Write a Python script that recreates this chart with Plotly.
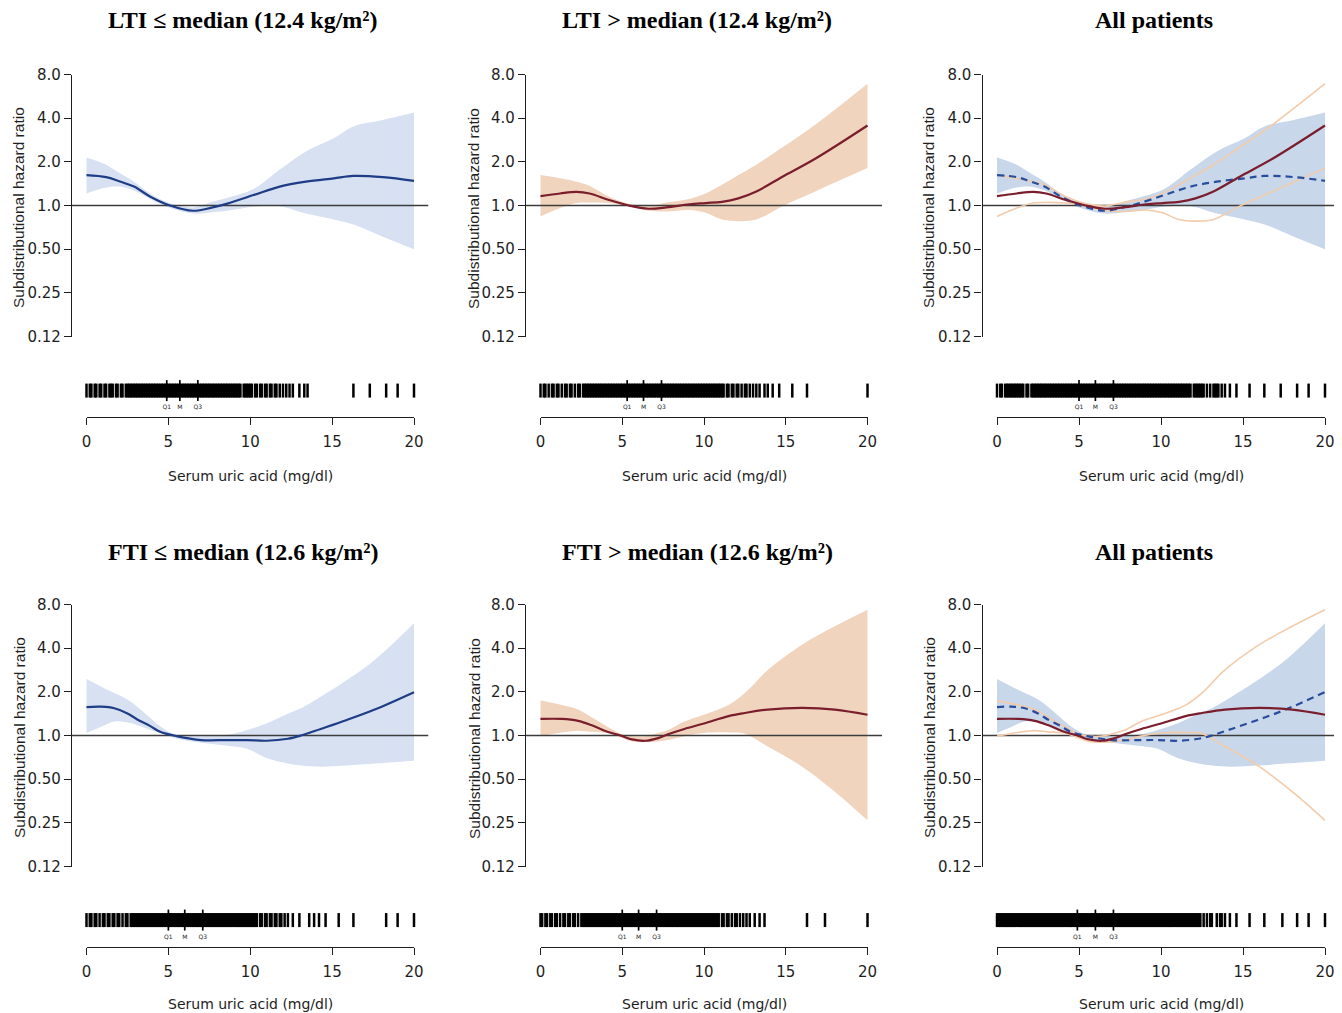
import math
import plotly.graph_objects as go

# ---------------- data ----------------
# LTI <= median (12.4 kg/m2)
lti_low_x = [0, 1.2, 2.0, 2.9, 3.9, 5.1, 6.5, 7.7, 8.6, 10.2, 11.8, 13.4, 15.1, 16.3, 18.1, 20]
lti_low_hr = [1.62, 1.57, 1.47, 1.35, 1.15, 1.0, 0.92, 0.97, 1.03, 1.18, 1.35, 1.46, 1.54, 1.60, 1.57, 1.48]
lti_low_hi = [2.14, 1.91, 1.68, 1.46, 1.21, 1.035, 0.97, 1.06, 1.13, 1.30, 1.77, 2.36, 2.91, 3.51, 3.89, 4.38]
lti_low_lo = [1.21, 1.33, 1.35, 1.27, 1.11, 0.96, 0.88, 0.90, 0.92, 0.98, 0.99, 0.88, 0.80, 0.74, 0.61, 0.50]

# LTI > median (12.4 kg/m2)
lti_high_x = [0, 1.2, 2.2, 3.0, 4.2, 5.4, 6.6, 7.7, 9.1, 10.1, 11.1, 12.1, 13.2, 14.8, 16.8, 20]
lti_high_hr = [1.16, 1.21, 1.24, 1.21, 1.09, 1.0, 0.95, 0.97, 1.02, 1.04, 1.06, 1.12, 1.25, 1.58, 2.10, 3.56]
lti_high_hi = [1.62, 1.54, 1.46, 1.37, 1.15, 1.03, 0.99, 1.05, 1.11, 1.21, 1.39, 1.62, 1.91, 2.52, 3.61, 6.92]
lti_high_lo = [0.84, 0.96, 1.04, 1.05, 1.04, 0.99, 0.92, 0.91, 0.93, 0.89, 0.80, 0.78, 0.80, 0.99, 1.25, 1.81]

# FTI <= median (12.6 kg/m2)
fti_low_x = [0, 0.9, 1.7, 2.5, 3.1, 3.9, 4.5, 5.5, 7.0, 8.6, 9.8, 11.0, 12.3, 13.1, 14.3, 15.9, 17.6, 20]
fti_low_hr = [1.57, 1.58, 1.54, 1.42, 1.29, 1.16, 1.06, 0.99, 0.93, 0.93, 0.93, 0.92, 0.95, 1.0, 1.11, 1.28, 1.51, 1.99]
fti_low_hi = [2.45, 2.17, 1.96, 1.77, 1.58, 1.32, 1.16, 1.01, 0.99, 1.01, 1.09, 1.21, 1.41, 1.54, 1.85, 2.41, 3.32, 5.94]
fti_low_lo = [1.04, 1.15, 1.25, 1.23, 1.18, 1.09, 1.04, 0.95, 0.89, 0.85, 0.81, 0.70, 0.64, 0.62, 0.61, 0.62, 0.64, 0.67]

# FTI > median (12.6 kg/m2)
fti_high_x = [0, 1.3, 2.3, 3.1, 4.1, 4.9, 5.6, 6.4, 7.2, 7.8, 8.8, 10.0, 11.5, 12.5, 13.9, 16.0, 18.0, 20]
fti_high_hr = [1.30, 1.30, 1.26, 1.18, 1.06, 1.0, 0.94, 0.92, 0.96, 1.02, 1.11, 1.21, 1.36, 1.43, 1.51, 1.55, 1.51, 1.39]
fti_high_hi = [1.74, 1.62, 1.51, 1.34, 1.15, 1.03, 0.99, 0.99, 1.04, 1.09, 1.25, 1.39, 1.62, 1.96, 2.83, 4.23, 5.66, 7.36]
fti_high_lo = [0.99, 1.05, 1.08, 1.06, 1.04, 0.97, 0.91, 0.90, 0.91, 0.93, 0.99, 1.04, 1.05, 1.03, 0.84, 0.61, 0.41, 0.26]

# observed serum uric acid values (rug); values 2.8-9.4 occur in every subgroup
uric_core = [2.8, 2.9, 3.0, 3.1, 3.2, 3.3, 3.4, 3.5, 3.6, 3.7, 3.8, 3.9, 4.0, 4.1, 4.2, 4.3,
             4.4, 4.5, 4.6, 4.7, 4.8, 4.9, 5.0, 5.1, 5.2, 5.3, 5.4, 5.5, 5.6, 5.7, 5.8, 5.9,
             6.0, 6.1, 6.2, 6.3, 6.4, 6.5, 6.6, 6.7, 6.8, 6.9, 7.0, 7.1, 7.2, 7.3, 7.4, 7.5,
             7.6, 7.7, 7.8, 7.9, 8.0, 8.1, 8.2, 8.3, 8.4, 8.5, 8.6, 8.7, 8.8, 8.9, 9.0, 9.1,
             9.2, 9.3, 9.4]
rug_lti_low = uric_core + [0.0, 0.2, 0.3, 0.5, 0.6, 0.8, 0.9, 1.1, 1.2, 1.4, 1.5, 1.6, 1.8, 1.9,
                           2.1, 2.2, 2.4, 2.5, 2.6, 2.7, 9.6, 9.7, 9.8, 9.9, 10.0, 10.1,
                           10.3, 10.4, 10.6, 10.7, 10.9, 11.0, 11.2, 11.3, 11.5, 11.6, 11.8,
                           12.0, 12.2, 12.4, 12.6, 13.0, 13.3, 13.5, 16.3, 17.3, 18.3, 19.0, 20.0]
rug_lti_high = uric_core + [0.0, 0.2, 0.3, 0.5, 0.7, 0.8, 1.0, 1.1, 1.3, 1.5, 1.6, 1.8, 1.9,
                            2.1, 2.3, 2.4, 2.6, 2.7, 9.5, 9.6, 9.7, 9.8, 9.9, 10.0, 10.1, 10.2,
                            10.3, 10.4, 10.5, 10.6, 10.7, 10.8, 10.9, 11.0, 11.1, 11.2, 11.4,
                            11.5, 11.7, 11.8, 12.0, 12.1, 12.3, 12.5, 12.6, 12.8, 13.0, 13.2,
                            13.4, 13.7, 13.9, 14.2, 14.6, 15.4, 16.3, 20.0]
rug_fti_low = uric_core + [0.0, 0.2, 0.3, 0.5, 0.6, 0.8, 1.0, 1.1, 1.3, 1.4, 1.6, 1.7, 1.9, 2.0,
                           2.2, 2.4, 2.5, 2.7, 9.5, 9.6, 9.7, 9.8, 9.9, 10.0, 10.1, 10.2, 10.3,
                           10.4, 10.6, 10.7, 10.9, 11.0, 11.2, 11.3, 11.5, 11.6, 11.8, 11.9,
                           12.1, 12.3, 12.6, 13.0, 13.6, 13.9, 14.2, 14.6, 15.4, 16.3, 18.3,
                           19.0, 20.0]
rug_fti_high = uric_core + [0.0, 0.1, 0.3, 0.4, 0.6, 0.7, 0.9, 1.0, 1.2, 1.4, 1.5, 1.7, 1.8,
                            2.0, 2.1, 2.3, 2.5, 2.6, 2.7, 9.5, 9.6, 9.7, 9.8, 9.9, 10.0, 10.1,
                            10.2, 10.3, 10.4, 10.5, 10.6, 10.7, 10.8, 10.9, 11.1, 11.2, 11.4,
                            11.5, 11.7, 11.9, 12.0, 12.2, 12.4, 12.6, 12.8, 13.1, 13.4, 13.7,
                            16.3, 17.4, 20.0]
rug_all_lti = sorted(set(rug_lti_low) | set(rug_lti_high))
rug_all_fti = sorted(set(rug_fti_low) | set(rug_fti_high))

q_labels = ["Q1", "M", "Q3"]
q_lti_low = [4.9, 5.7, 6.8]
q_lti_high = [5.3, 6.3, 7.4]
q_all_lti = [5.0, 6.0, 7.1]
q_fti_low = [5.0, 6.0, 7.1]
q_fti_high = [5.0, 6.0, 7.1]
q_all_fti = [4.9, 6.0, 7.1]

y_tickvals = [0.125, 0.25, 0.5, 1, 2, 4, 8]
y_ticktext = ["0.12", "0.25", "0.50", "1.0", "2.0", "4.0", "8.0"]
x_tickvals = [0, 5, 10, 15, 20]

titles = ["LTI ≤ median (12.4 kg/m²)", "LTI > median (12.4 kg/m²)", "All patients",
          "FTI ≤ median (12.6 kg/m²)", "FTI > median (12.6 kg/m²)", "All patients"]
y_title = "Subdistributional hazard ratio"
x_title = "Serum uric acid (mg/dl)"

# ---------------- styling / layout geometry ----------------
W, H = 1342, 1013
OFF = 8            # page body margin of the written html
FW, FH = W - OFF, H - OFF
BLUE = "#1f3c86"
BLUE_DASH = "#2a4c9c"
BLUE_BAND = "#d7e1f2"
BLUE_BAND_ALL = "#c9d7ea"
RED = "#7a1d2d"
TAN_BAND = "#f0d4bd"
TAN_LINE = "#f2cbab"
REF = "#3c3c3c"
AX = "#1e1e1e"
SANS = "DejaVu Sans"

col_x0 = [86.5, 540.5, 997.0]
col_x20 = [414.0, 867.5, 1325.0]
col_ytitle = [19.0, 474.0, 929.0]
col_title = [243.0, 697.0, 1154.0]
row_top = [74.5, 604.5]
row_bot = [336.5, 866.5]
row_axis = [417.3, 946.8]
row_rugtop = [378.0, 907.5]
row_title = [20.0, 552.0]
row_xtitle = [476.0, 1004.0]
PAD = 14.5
RUG_Y = 0.68


def fx(p):
    return (p - OFF) / FW


def fy(p):
    return 1 - (p - OFF) / FH


def ax(kind, k):
    return kind if k == 1 else f"{kind}{k}"


def lk(kind, k):
    return f"{kind}axis" if k == 1 else f"{kind}axis{k}"


fig = go.Figure()
layout_axes = {}
annotations = []


def add(tr, k):
    tr.update(xaxis=ax("x", k), yaxis=ax("y", k), showlegend=False, hoverinfo="skip")
    fig.add_trace(tr)


lti_low = dict(x=lti_low_x, hr=lti_low_hr, lo=lti_low_lo, hi=lti_low_hi)
lti_high = dict(x=lti_high_x, hr=lti_high_hr, lo=lti_high_lo, hi=lti_high_hi)
fti_low = dict(x=fti_low_x, hr=fti_low_hr, lo=fti_low_lo, hi=fti_low_hi)
fti_high = dict(x=fti_high_x, hr=fti_high_hr, lo=fti_high_lo, hi=fti_high_hi)

panels = [
    dict(r=0, c=0, mode="single", g=lti_low, band=BLUE_BAND, line=BLUE, rug=rug_lti_low, q=q_lti_low),
    dict(r=0, c=1, mode="single", g=lti_high, band=TAN_BAND, line=RED, rug=rug_lti_high, q=q_lti_high),
    dict(r=0, c=2, mode="all", g=lti_low, g2=lti_high, rug=rug_all_lti, q=q_all_lti),
    dict(r=1, c=0, mode="single", g=fti_low, band=BLUE_BAND, line=BLUE, rug=rug_fti_low, q=q_fti_low),
    dict(r=1, c=1, mode="single", g=fti_high, band=TAN_BAND, line=RED, rug=rug_fti_high, q=q_fti_high),
    dict(r=1, c=2, mode="all", g=fti_low, g2=fti_high, rug=rug_all_fti, q=q_all_fti),
]


def band(k, g, color):
    add(go.Scatter(x=g["x"], y=g["lo"], mode="lines",
                   line=dict(width=0, shape="spline", smoothing=1)), k)
    add(go.Scatter(x=g["x"], y=g["hi"], mode="lines", fill="tonexty", fillcolor=color,
                   line=dict(width=0, shape="spline", smoothing=1)), k)


for p, P in enumerate(panels):
    r, c = P["r"], P["c"]
    km, kr = 2 * p + 1, 2 * p + 2
    x0, x20 = col_x0[c], col_x20[c]
    ppu = (x20 - x0) / 20.0
    xr = [-PAD / ppu, 20 + PAD / ppu]

    layout_axes[lk("x", km)] = dict(domain=[fx(x0 - PAD), fx(x20 + PAD)], range=xr,
                                   visible=False, anchor=ax("y", km), automargin=False)
    layout_axes[lk("y", km)] = dict(
        domain=[fy(row_bot[r]), fy(row_top[r])], type="log", automargin=False,
        range=[math.log10(0.125), math.log10(8)], anchor=ax("x", km),
        showline=True, linecolor=AX, linewidth=1.3, ticks="outside", ticklen=7,
        tickwidth=1.3, tickcolor=AX, tickvals=y_tickvals, ticktext=y_ticktext,
        showgrid=False, zeroline=False, tickfont=dict(family=SANS, size=15, color=AX))
    layout_axes[lk("x", kr)] = dict(
        domain=[fx(x0), fx(x20)], range=[0, 20], anchor=ax("y", kr), automargin=False,
        showline=True, linecolor=AX, linewidth=1.3, ticks="outside", ticklen=7,
        tickwidth=1.3, tickcolor=AX, tickvals=x_tickvals, showgrid=False, zeroline=False,
        ticklabelstandoff=4, tickfont=dict(family=SANS, size=15, color=AX))
    layout_axes[lk("y", kr)] = dict(domain=[fy(row_axis[r]), fy(row_rugtop[r])], range=[0, 1],
                                   visible=False, anchor=ax("x", kr), automargin=False)

    g = P["g"]
    if P["mode"] == "single":
        band(km, g, P["band"])
        add(go.Scatter(x=xr, y=[1, 1], mode="lines", line=dict(color=REF, width=1.5)), km)
        add(go.Scatter(x=g["x"], y=g["hr"], mode="lines",
                       line=dict(color=P["line"], width=2.2, shape="spline", smoothing=1)), km)
    else:
        g2 = P["g2"]
        band(km, g, BLUE_BAND_ALL)
        add(go.Scatter(x=xr, y=[1, 1], mode="lines", line=dict(color=REF, width=1.5)), km)
        for key in ("lo", "hi"):
            add(go.Scatter(x=g2["x"], y=g2[key], mode="lines",
                           line=dict(color=TAN_LINE, width=1.6, shape="spline", smoothing=1)), km)
        add(go.Scatter(x=g["x"], y=g["hr"], mode="lines",
                       line=dict(color=BLUE_DASH, width=2.2, dash="7px,5px",
                                 shape="spline", smoothing=1)), km)
        add(go.Scatter(x=g2["x"], y=g2["hr"], mode="lines",
                       line=dict(color=RED, width=2.2, shape="spline", smoothing=1)), km)

    # rug
    add(go.Scatter(x=P["rug"], y=[RUG_Y] * len(P["rug"]), mode="markers", cliponaxis=False,
                   marker=dict(symbol="line-ns", size=10, color="black",
                               line=dict(width=2.5, color="black"))), kr)
    add(go.Scatter(x=P["q"], y=[RUG_Y] * len(P["q"]), mode="markers", cliponaxis=False,
                   marker=dict(symbol="line-ns", size=15, color="black",
                               line=dict(width=1.7, color="black"))), kr)
    add(go.Scatter(x=P["q"], y=[0.24] * len(P["q"]), mode="text", text=q_labels,
                   cliponaxis=False, textfont=dict(family=SANS, size=6, color=AX)), kr)

    annotations.append(dict(text=titles[p], x=fx(col_title[c]), y=fy(row_title[r]),
                            xref="paper", yref="paper", xanchor="center", yanchor="middle",
                            showarrow=False,
                            font=dict(family="Liberation Serif", size=24, color="black",
                                      weight="bold")))
    annotations.append(dict(text=y_title, x=fx(col_ytitle[c]),
                            y=fy((row_top[r] + row_bot[r]) / 2 + 2.5),
                            xref="paper", yref="paper", xanchor="center", yanchor="middle",
                            textangle=-90, showarrow=False,
                            font=dict(family="Liberation Sans", size=15.5, color=AX)))
    annotations.append(dict(text=x_title, x=fx((x0 + x20) / 2), y=fy(row_xtitle[r]),
                            xref="paper", yref="paper", xanchor="center", yanchor="middle",
                            showarrow=False, font=dict(family=SANS, size=14, color=AX)))

fig.update_layout(
    width=FW, height=FH, margin=dict(l=0, r=0, t=0, b=0, autoexpand=False),
    paper_bgcolor="white", plot_bgcolor="rgba(0,0,0,0)",
    showlegend=False, annotations=annotations, **layout_axes)

fig.write_html("out.html")
